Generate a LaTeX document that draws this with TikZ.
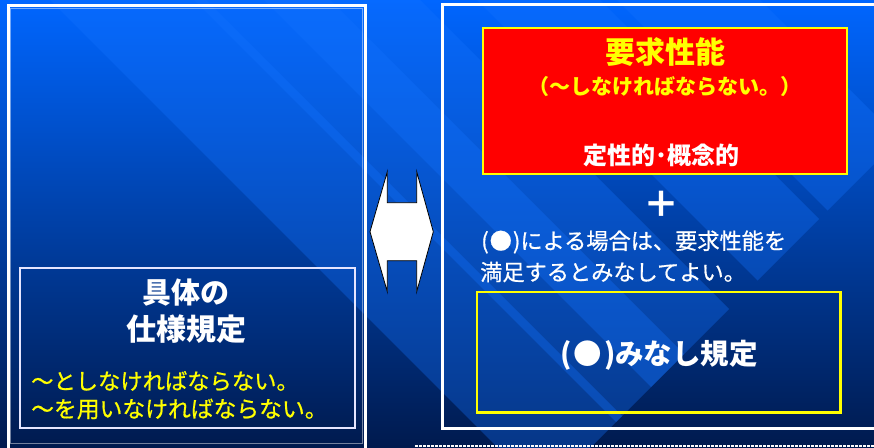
\documentclass[tikz,border=0pt]{standalone}
\usepackage{fontspec}
\newfontfamily\jp{Noto Sans CJK JP}
\newfontfamily\jpm[FakeBold=0.7]{Noto Sans CJK JP}
\definecolor{bgtop}{RGB}{0,102,255}
\definecolor{bgmid}{RGB}{0,78,205}
\definecolor{bgbot}{RGB}{0,26,78}
\definecolor{bandc}{RGB}{20,115,255}
\definecolor{yel}{RGB}{255,255,0}
\definecolor{redbox}{RGB}{255,0,0}
\tikzset{
  band/.style={fill=bandc, fill opacity=0.33, draw=none},
  panel/.style={draw=white, line width=3pt},
  ybox/.style={draw=yel, line width=2.5pt},
  jtext/.style={inner sep=0pt, font=\jp},
}
\newcommand{\fs}[1]{\fontsize{#1}{#1}\selectfont}
\begin{document}
\begin{tikzpicture}[x=1pt,y=-1pt]
\useasboundingbox (0,0) rectangle (874,447);
\shade[top color=bgtop, middle color=bgmid, bottom color=bgbot] (0,0) rectangle (874,447);
% diagonal bands
\begin{scope}
\clip (0,0) rectangle (874,447);
\foreach \a/\b in {50/206, 194/330, 264/420, 477/600, 617/760}{
  \fill[band] (\a,0) -- (\b,0) -- ({(\b+1038)/2},{(1038-\b)/2}) -- ({(\a+1038)/2},{(1038-\a)/2}) -- cycle;
}
\end{scope}
% panels
\draw[panel] (8,5) rectangle (365.5,455);
\draw[white, opacity=0.45, line width=0.8pt] (10.5,8) rectangle (362.5,443.5);
\draw[panel] (442,4.5) rectangle (880,428.5);
\draw[white, dashed, dash pattern=on 2.7pt off 1.3pt, line width=1.5pt] (415,446) -- (874,446);
% left box
\node[draw=white!90!blue, line width=2pt, minimum width=335.5pt, minimum height=160pt, inner sep=0pt] (spec) at (187.25,348) {};
\node[jtext, text=white, font=\jp\bfseries\fs{29}] (gutai) at (186,293) {具体の};
\node[jtext, text=white, font=\jp\bfseries\fs{30}] (shiyo) at (186.5,329) {仕様規定};
\node[jtext, text=yel, font=\jpm\fs{22.3}, anchor=west] (l1) at (31,381) {～としなければならない。};
\node[jtext, text=yel, font=\jpm\fs{22.8}, anchor=west] (l2) at (31,409) {～を用いなければならない。};
% arrow
\draw[fill=white, draw=black, line width=0.8pt] (387.3,171.7) -- (387.3,202.7) -- (416.7,202.7) -- (416.7,171.7) -- (433.3,231.7) -- (416.7,291.7) -- (416.7,260.7) -- (387.3,260.7) -- (387.3,291.7) -- (370,231.7) -- cycle;
% red box
\node[fill=redbox, draw=yel, line width=2pt, minimum width=364.8pt, minimum height=145.7pt, inner sep=0pt] (req) at (664.9,101.15) {};
\node[jtext, text=yel, font=\jp\bfseries\fs{30}] (reqt) at (665,52) {要求性能};
\node[jtext, text=yel, font=\jp\bfseries\fs{21}] (reqs) at (664.5,87) {（～しなければならない。）};
\node[jtext, text=white, font=\jp\bfseries\fs{24}] (qual) at (661,155) {定性的･概念的};
\node[jtext, text=white, font=\jp\bfseries\fs{36}] (plus) at (661,204) {＋};
\node[jtext, text=white, font=\jpm\fs{22.2}, anchor=west] (m1) at (481,242) {(\hspace{1pt}●\hspace{1pt})による場合は、要求性能を};
\node[jtext, text=white, font=\jpm\fs{22.2}, anchor=west] (m2) at (480,272) {満足するとみなしてよい。};
% yellow box
\node[ybox, minimum width=363.5pt, minimum height=120.7pt, inner sep=0pt] (minashi) at (658.75,352.35) {};
\node[jtext, text=white, font=\jp\bfseries\fs{28.5}] (mt) at (659,355) {(\hspace{2pt}●\hspace{2pt})みなし規定};
\end{tikzpicture}
\end{document}
